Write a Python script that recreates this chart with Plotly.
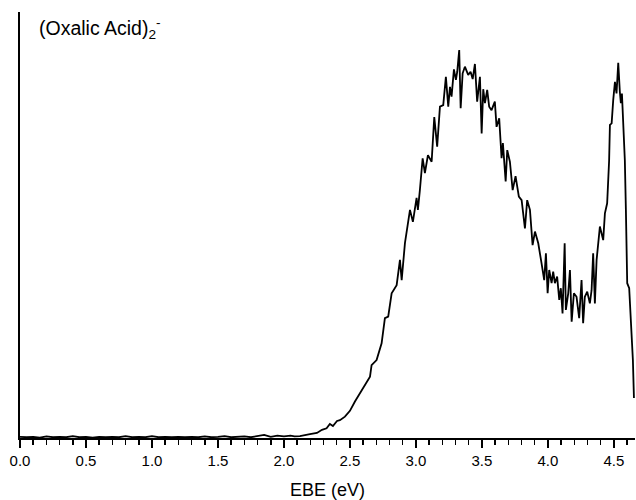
import plotly.graph_objects as go

# Baseline region (EBE in eV, relative intensity)
base_ebe = [0.00, 0.05, 0.10, 0.15, 0.20, 0.25, 0.30, 0.35, 0.40, 0.45,
            0.50, 0.55, 0.60, 0.65, 0.70, 0.75, 0.80, 0.85, 0.90, 0.95,
            1.00, 1.05, 1.10, 1.15, 1.20, 1.25, 1.30, 1.35, 1.40, 1.45,
            1.50, 1.55, 1.60, 1.65, 1.70, 1.75, 1.80, 1.85, 1.90, 1.95,
            2.00, 2.05, 2.08]
base_int = [0.003, 0.002, 0.003, 0.001, 0.004, 0.002, 0.003, 0.002, 0.005, 0.002,
            0.003, 0.001, 0.003, 0.002, 0.003, 0.002, 0.005, 0.002, 0.003, 0.002,
            0.005, 0.002, 0.003, 0.002, 0.003, 0.002, 0.003, 0.002, 0.004, 0.002,
            0.003, 0.005, 0.002, 0.003, 0.004, 0.002, 0.005, 0.008, 0.003, 0.006,
            0.004, 0.006, 0.004]

# Band region
band_ebe = [2.121, 2.197, 2.250, 2.288, 2.323, 2.348, 2.371, 2.402, 2.424, 2.462,
            2.500, 2.538, 2.568, 2.601, 2.652, 2.664, 2.702, 2.740, 2.765, 2.790,
            2.816, 2.854, 2.879, 2.892, 2.917, 2.955, 2.977, 3.005, 3.015, 3.030,
            3.051, 3.068, 3.091, 3.119, 3.139, 3.161, 3.182, 3.207, 3.227, 3.245,
            3.258, 3.270, 3.288, 3.303, 3.313, 3.328, 3.339, 3.354, 3.371, 3.396,
            3.414, 3.430, 3.447, 3.464, 3.485, 3.498, 3.510, 3.523, 3.540, 3.555,
            3.573, 3.598, 3.611, 3.631, 3.649, 3.659, 3.680, 3.692, 3.712, 3.733,
            3.755, 3.780, 3.801, 3.826, 3.843, 3.864, 3.884, 3.902, 3.927, 3.952,
            3.972, 3.985, 3.998, 4.010, 4.028, 4.040, 4.053, 4.070, 4.086, 4.098,
            4.111, 4.127, 4.136, 4.154, 4.167, 4.180, 4.197, 4.217, 4.237, 4.255,
            4.267, 4.280, 4.298, 4.318, 4.331, 4.343, 4.356, 4.369, 4.381, 4.394,
            4.419, 4.432, 4.449, 4.464, 4.470, 4.483, 4.495, 4.508, 4.520, 4.533,
            4.545, 4.553, 4.561, 4.576, 4.583, 4.591, 4.601, 4.616, 4.629, 4.644,
            4.652]
band_int = [0.005, 0.010, 0.013, 0.021, 0.025, 0.036, 0.031, 0.044, 0.046, 0.055,
            0.070, 0.094, 0.111, 0.128, 0.158, 0.188, 0.201, 0.244, 0.309, 0.313,
            0.373, 0.394, 0.459, 0.407, 0.503, 0.588, 0.557, 0.619, 0.588, 0.639,
            0.721, 0.683, 0.729, 0.712, 0.827, 0.751, 0.854, 0.858, 0.931, 0.854,
            0.905, 0.880, 0.950, 0.923, 0.944, 1.000, 0.850, 0.940, 0.957, 0.936,
            0.944, 0.925, 0.964, 0.867, 0.931, 0.785, 0.899, 0.863, 0.897, 0.854,
            0.845, 0.867, 0.802, 0.824, 0.721, 0.760, 0.661, 0.742, 0.712, 0.639,
            0.675, 0.622, 0.613, 0.540, 0.613, 0.588, 0.497, 0.532, 0.502, 0.450,
            0.407, 0.476, 0.373, 0.433, 0.399, 0.429, 0.399, 0.416, 0.356, 0.386,
            0.321, 0.502, 0.330, 0.373, 0.433, 0.300, 0.373, 0.364, 0.309, 0.407,
            0.296, 0.364, 0.377, 0.347, 0.381, 0.476, 0.347, 0.459, 0.497, 0.545,
            0.510, 0.579, 0.605, 0.716, 0.807, 0.811, 0.871, 0.918, 0.888, 0.967,
            0.893, 0.863, 0.888, 0.785, 0.716, 0.588, 0.399, 0.386, 0.313, 0.201,
            0.103]

ebe = base_ebe + band_ebe
intensity = base_int + band_int

tick_vals = [0.0, 0.5, 1.0, 1.5, 2.0, 2.5, 3.0, 3.5, 4.0, 4.5]
tick_text = ["0.0", "0.5", "1.0", "1.5", "2.0", "2.5", "3.0", "3.5", "4.0", "4.5"]

FONT = "Liberation Sans, Arial, sans-serif"

fig = go.Figure()
fig.add_trace(go.Scatter(x=ebe, y=intensity, mode="lines",
                         line=dict(color="black", width=1.8),
                         showlegend=False, hoverinfo="skip"))

fig.update_layout(
    width=636, height=500,
    margin=dict(l=20, r=1, t=12, b=62),
    paper_bgcolor="white", plot_bgcolor="white",
    font=dict(family=FONT, color="black"),
    xaxis=dict(range=[0, 4.66], tickvals=tick_vals, ticktext=tick_text,
               ticks="outside", ticklen=8, tickwidth=1.5, tickcolor="black",
               showline=True, linecolor="black", linewidth=2,
               showgrid=False, zeroline=False,
               tickfont=dict(size=15, family=FONT),
               minor=dict(dtick=0.1, ticks="outside", ticklen=5, tickwidth=1.5,
                          tickcolor="black", showgrid=False),
               title=dict(text="EBE (eV)", font=dict(size=18, family=FONT),
                          standoff=16)),
    yaxis=dict(range=[0, 1.098], showticklabels=False, ticks="",
               showline=True, linecolor="black", linewidth=2,
               showgrid=False, zeroline=False),
    annotations=[dict(text="(Oxalic Acid)<sub>2</sub><sup>-</sup>",
                      xref="paper", yref="paper", x=0.0276, y=0.962,
                      xanchor="left", yanchor="middle", showarrow=False,
                      font=dict(size=19.5, family=FONT, color="black"))],
)

fig.write_html("out.html",
               config={"displayModeBar": False, "staticPlot": True},
               post_script="document.body.style.margin='0';document.body.style.overflow='hidden';")
